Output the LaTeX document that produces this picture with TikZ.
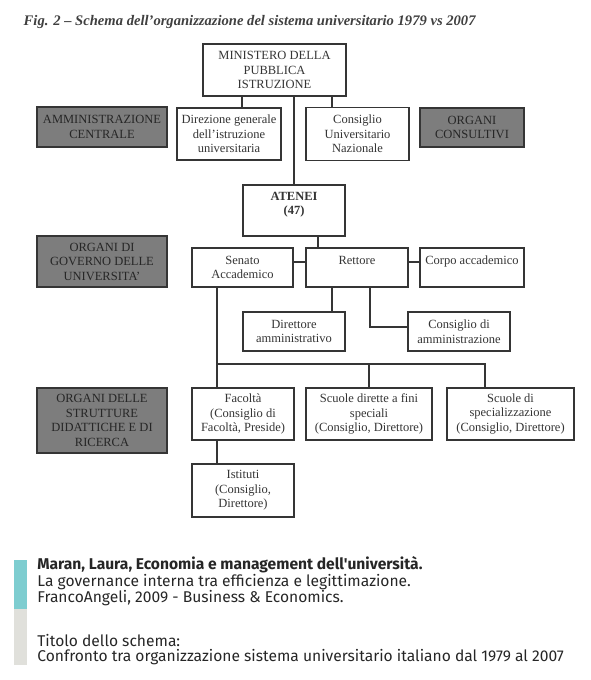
\documentclass[tikz,border=0pt]{standalone}
\usepackage{fontspec}
\setmainfont{Liberation Serif}
\newfontfamily\capfont{Fira Sans}
\usepackage{tikz}
\usetikzlibrary{positioning,calc}
\usepackage{xcolor}
\definecolor{ink}{HTML}{353535}
\definecolor{areagray}{HTML}{7D7D7D}
\definecolor{barcyan}{HTML}{7ECDD0}
\definecolor{bargray}{HTML}{E0E0DB}
\newcommand{\schemafont}{\fontsize{12.5}{14.5}\selectfont}

\begin{document}
\begin{tikzpicture}[x=1pt,y=-1pt,thick,node distance=100pt]
\tikzstyle{ente}=[draw=ink,line width=1.3pt,fill=white,text=ink,align=center,inner sep=2pt,font=\schemafont]
\tikzstyle{area}=[ente,fill=areagray,text=black!85]
\tikzstyle{link}=[draw=ink,line width=1.3pt]
\useasboundingbox (0,0) rectangle (591,680);

\node[anchor=west,text=black!75,font=\fontsize{14.6}{17}\selectfont\bfseries\itshape] (title) at (20,22)
  {Fig. 2 -- Schema dell'organizzazione del sistema universitario 1979 vs 2007};

\node[ente,minimum width=143pt,minimum height=52pt] (min) at (274.5,70) {MINISTERO DELLA\\PUBBLICA\\ISTRUZIONE};
\node[ente,minimum width=104pt,minimum height=52pt] (dir) at (229,134) {Direzione generale\\dell'istruzione\\universitaria};
\node[ente,minimum width=103pt,minimum height=53pt] (cun) [right of = dir,node distance=128.5pt] {Consiglio\\Universitario\\Nazionale};
\node[area,minimum width=130pt,minimum height=40pt] (amm) at (102,127) {AMMINISTRAZIONE\\CENTRALE};
\node[area,minimum width=104pt,minimum height=39pt] (cons) at (472,127.5) {ORGANI\\CONSULTIVI};

\node[ente,minimum width=102pt,minimum height=51pt,font=\schemafont\bfseries] (ate) at (294,210.5) {ATENEI\\(47)\\\mbox{}};
\node[area,minimum width=130pt,minimum height=51pt] (gov) at (102,261.5) {ORGANI DI\\GOVERNO DELLE\\UNIVERSITA'};
\node[ente,minimum width=101pt,minimum height=39pt] (sen) at (242.5,267.5) {Senato\\Accademico};
\node[ente,minimum width=102pt,minimum height=39pt] (ret) [right of = sen,node distance=114.5pt] {Rettore\\\mbox{}};
\node[ente,minimum width=104pt,minimum height=39pt] (cor) [right of = ret,node distance=115pt] {Corpo accademico\\\mbox{}};
\node[ente,minimum width=102pt,minimum height=39pt] (dam) at (294,331.5) {Direttore\\amministrativo};
\node[ente,minimum width=102pt,minimum height=39pt] (cda) [right of = dam,node distance=165pt] {Consiglio di\\amministrazione};

\node[area,minimum width=130pt,minimum height=65pt] (str) at (102,420.5) {ORGANI DELLE\\STRUTTURE\\DIDATTICHE E DI\\RICERCA};
\node[ente,minimum width=102pt,minimum height=52pt] (fac) at (243,414) {Facolt\`a\\(Consiglio di\\Facolt\`a, Preside)};
\node[ente,minimum width=126pt,minimum height=52pt] (sds) [right of = fac,node distance=126pt] {Scuole dirette a fini\\speciali\\(Consiglio, Direttore)};
\node[ente,minimum width=127pt,minimum height=52pt] (ssp) [right of = sds,node distance=141.5pt] {Scuole di\\specializzazione\\(Consiglio, Direttore)};
\node[ente,minimum width=102pt,minimum height=53pt] (ist) [below of = fac,node distance=76.5pt] {Istituti\\(Consiglio,\\Direttore)};

\draw[link] ([xshift=13pt]dir.north) -- ([xshift=13pt]dir.north |- min.south);
\draw[link] (ate.north) -- (ate.north |- min.south);
\draw[link] ([xshift=-25.5pt]cun.north) -- ([xshift=-25.5pt]cun.north |- min.south);
\draw[link] ([xshift=24pt]ate.south) -- ([xshift=24pt]ate.south |- ret.north);
\draw[link] ([yshift=5.5pt]sen.east) -- ([yshift=5.5pt]sen.east -| ret.west);
\draw[link] ([yshift=5.5pt]ret.east) -- ([yshift=5.5pt]ret.east -| cor.west);
\draw[link] ([xshift=-25pt]ret.south) -- ([xshift=-25pt]ret.south |- dam.north);
\draw[link] ([xshift=13pt]ret.south) |- ([yshift=4.5pt]cda.west);
\draw[link] ([xshift=-25.5pt]sen.south) -- ([xshift=-25.5pt]sen.south |- fac.north);
\coordinate (bus) at (217,364);
\draw[link] (bus) -| ([xshift=-25.5pt]ssp.north);
\draw[link] (bus -| sds.north) -- (sds.north);
\draw[link] ([xshift=-26pt]fac.south) -- ([xshift=-26pt]fac.south |- ist.north);

\fill[barcyan] (14,560) rectangle (27,609);
\fill[bargray] (14,609) rectangle (27,665);
\node[anchor=base west,align=left,inner sep=0pt,text=black!85,font=\capfont\fontsize{15.6}{15}\selectfont] (fonte) at (37,661)
  {{\bfseries Maran, Laura, Economia e management dell'universit\`a.}\\
   La governance interna tra efficienza e legittimazione.\\
   FrancoAngeli, 2009 - Business \& Economics.\\[27pt]
   Titolo dello schema:\\
   Confronto tra organizzazione sistema universitario italiano dal 1979 al 2007};
\end{tikzpicture}
\end{document}
